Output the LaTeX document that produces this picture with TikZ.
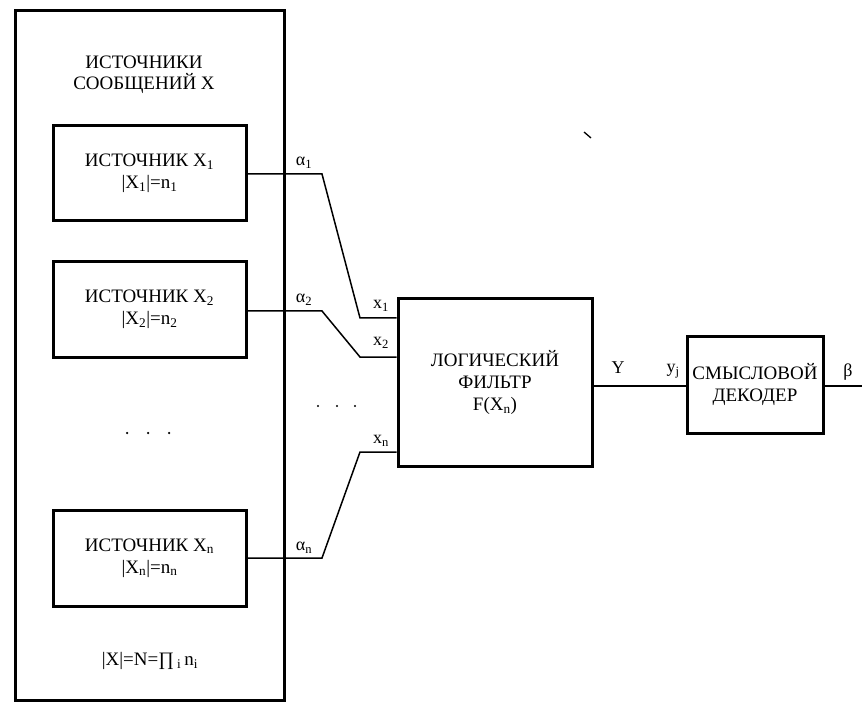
\documentclass[tikz,border=0pt]{standalone}
\usepackage{fontspec}
\setmainfont{Liberation Serif}
\begin{document}
\begin{tikzpicture}[x=1pt,y=-1pt,
  box/.style={draw,line width=3pt,rectangle,inner sep=0pt,align=center,font=\fontsize{19}{22}\selectfont},
  wire/.style={line width=1.5pt},
  lbl/.style={inner sep=0pt,font=\fontsize{18}{20}\selectfont},
  dotsty/.style={fill,circle,inner sep=0pt,minimum size=2.5pt}]
\useasboundingbox (0,0) rectangle (862,703);
% outer box
\node[box,minimum width=269pt,minimum height=689pt] (outer) at (149.5,355.5) {};
\node[lbl,align=center,font=\fontsize{19}{21}\selectfont] (title) at (144,75) {ИСТОЧНИКИ\\СООБЩЕНИЙ X};
% sources
\node[box,minimum width=193pt,minimum height=95pt] (s1) at (149.5,173.5) {ИСТОЧНИК X\textsubscript{1}\\|X\textsubscript{1}|=n\textsubscript{1}};
\node[box,minimum width=193pt,minimum height=95pt] (s2) at (149.5,309.5) {ИСТОЧНИК X\textsubscript{2}\\|X\textsubscript{2}|=n\textsubscript{2}};
\node[box,minimum width=193pt,minimum height=96pt] (sn) at (149.5,558) {ИСТОЧНИК X\textsubscript{n}\\|X\textsubscript{n}|=n\textsubscript{n}};
\node[lbl,font=\fontsize{19}{22}\selectfont] (card) at (150,661) {|X|=N=∏\,\textsubscript{i}\,n\textsubscript{i}};
% dots in outer box
\node[dotsty] (d1) at (127,433) {};
\node[dotsty] (d2) at (148,433) {};
\node[dotsty] (d3) at (169,433) {};
% filter
\node[box,minimum width=194pt,minimum height=167pt] (filt) at (495,382.5) {ЛОГИЧЕСКИЙ\\ФИЛЬТР\\F(X\textsubscript{n})};
% decoder
\node[box,minimum width=136pt,minimum height=97pt] (dec) at (755,384.5) {СМЫСЛОВОЙ\\ДЕКОДЕР};
% bend coordinates
\coordinate (b1a) at (322,174);
\coordinate (b1b) at (360,318);
\coordinate (b2a) at (322,311);
\coordinate (b2b) at (360,357);
\coordinate (bna) at (322,558);
\coordinate (bnb) at (360,452);
\coordinate (bout) at (862,386);
% wires
\draw[wire] (s1.east |- b1a) -- (b1a) -- (b1b) -- (filt.west |- b1b);
\draw[wire] (s2.east |- b2a) -- (b2a) -- (b2b) -- (filt.west |- b2b);
\draw[wire] (sn.east |- bna) -- (bna) -- (bnb) -- (filt.west |- bnb);
\draw[wire] (filt.east |- bout) -- (dec.west |- bout);
\draw[wire] (dec.east |- bout) -- (bout);
% dots between
\node[dotsty,minimum size=2.2pt] (e1) at (318,406) {};
\node[dotsty,minimum size=2.2pt] (e2) at (337,406) {};
\node[dotsty,minimum size=2.2pt] (e3) at (355,406) {};
% labels
\node[lbl] (la1) at (304,163) {α\textsubscript{1}};
\node[lbl] (la2) at (304,300) {α\textsubscript{2}};
\node[lbl] (lan) at (304,548) {α\textsubscript{n}};
\node[lbl] (lx1) at (381,306) {x\textsubscript{1}};
\node[lbl] (lx2) at (381,343) {x\textsubscript{2}};
\node[lbl] (lxn) at (381,441) {x\textsubscript{n}};
\node[lbl] (lY) at (618,368) {Y};
\node[lbl] (lyj) at (673,371) {y\textsubscript{j}};
\node[lbl] (lb) at (848,372) {β};
% stray tick
\coordinate (t1) at (584,132);
\coordinate (t2) at (591,138);
\draw[line width=1.3pt] (t1) -- (t2);
\end{tikzpicture}
\end{document}
